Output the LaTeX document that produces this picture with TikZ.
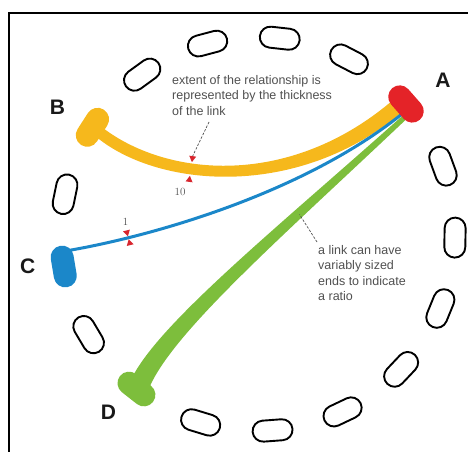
\documentclass[tikz,border=0pt]{standalone}
\usepackage{fontspec}
\setsansfont{Liberation Sans}
\usepackage{tikz}
\usetikzlibrary{shapes.misc, positioning, calc, backgrounds}

\definecolor{linkred}{HTML}{E42328}
\definecolor{linkyellow}{HTML}{F6B81C}
\definecolor{linkblue}{HTML}{1B87C9}
\definecolor{linkgreen}{HTML}{7DBE3C}
\definecolor{notegray}{HTML}{505050}
\definecolor{tickred}{HTML}{D8262E}

\newcommand{\ticktip}[2]{\fill[tickred] (#1) -- ($(#1)+({#2+180}:6)+({#2+90}:3.5)$) -- ($(#1)+({#2+180}:6)+({#2-90}:3.5)$) -- cycle;}

\begin{document}
\begin{tikzpicture}[
			x=1pt, y=1pt,
			slot/.style={rounded rectangle, draw=black, line width=1.9pt, minimum width=40pt, minimum height=21pt, inner sep=0pt},
			endslot/.style={rounded rectangle, minimum width=42pt, minimum height=23pt, inner sep=0pt},
			letter/.style={font=\sffamily\bfseries\fontsize{21}{21}\selectfont, text=black!90, on grid},
			note/.style={font=\sffamily\fontsize{12.5}{15.4}\selectfont, text=notegray, align=left, inner sep=0pt},
			count/.style={font=\fontsize{11}{11}\selectfont, text=notegray, inner sep=0pt},
			leader/.style={draw=notegray, line width=0.7pt, dash pattern=on 2.5pt off 1.5pt}
		]

		\useasboundingbox (0,0) rectangle (468,452);
		\draw[line width=2pt] (468,439) -- (9,439) -- (9,0);

		\coordinate (ctr) at (258,218);
		\foreach \i in {1,2,3,4,5,6,7,9,11,13,14,15,16}
			\node[slot, rotate=41.3-\i*21.176+90] (s\i) at ($(ctr)+({41.3-\i*21.176}:197)$) {};

		\node[endslot, fill=linkred, rotate=131.3] (A) at ($(ctr)+(41.3:197)$) {};
		\node[endslot, fill=linkgreen, rotate=-38.1] (D) at ($(ctr)+(-128.1:197)$) {};
		\node[endslot, fill=linkblue, rotate=-80.5] (C) at ($(ctr)+(-170.5:197)$) {};
		\node[endslot, fill=linkyellow, rotate=237.2] (B) at ($(ctr)+(147.2:197)$) {};

		\node[letter, above right=24pt and 37pt of A] (labA) {A};
		\node[letter, above left=20pt and 35pt of B] (labB) {B};
		\node[letter, left=36pt of C] (labC) {C};
		\node[letter, below left=23pt and 28pt of D] (labD) {D};

		\coordinate (Ay) at ($(A)+(221.3:5)+(131.3:4)$);
		\coordinate (Ab) at ($(A)+(221.3:6)+(131.3:-5)$);
		\coordinate (Ag) at ($(A)+(221.3:6)+(131.3:-9)$);
		\coordinate (By) at ($(B)+(327.2:5)$);
		\coordinate (Cb) at ($(C)+(9.5:5)+(-80.5:-15)$);
		\coordinate (Dg) at ($(D)+(51.9:5)$);

		\begin{pgfonlayer}{background}
			\fill[linkyellow] ($(By)+(50:5.5)$) .. controls ($(By)+(63,-53)+(50:7.5)$) and ($(Ay)+(-105,-91)+(130.9:7.5)$) .. ($(Ay)+(130.9:7.5)$)
				-- ($(Ay)+(-49.1:7.5)$) .. controls ($(Ay)+(-105,-91)+(-49.1:7.5)$) and ($(By)+(63,-53)+(-130:7.5)$) .. ($(By)+(-130:5.5)$) -- cycle;
			\fill[linkgreen] ($(Dg)+(158:10)$) .. controls ($(Dg)+(24,56)+(158:9)$) and ($(Ag)+(-127,-117)+(132.7:5)$) .. ($(Ag)+(132.7:2.5)$)
				-- ($(Ag)+(-47.3:2.5)$) .. controls ($(Ag)+(-127,-117)+(-47.3:5)$) and ($(Dg)+(24,56)+(-22:9)$) .. ($(Dg)+(-22:10)$) -- cycle;
			\draw[linkblue, line width=3pt] (Cb) .. controls +(94,16) and +(-95,-78) .. (Ab);
		\end{pgfonlayer}

		\ticktip{191.9,289.9}{-97.9}
		\ticktip{189.9,276.1}{82.1}
		\ticktip{127.9,215.7}{-76}
		\ticktip{128.7,212.7}{104}

		\node[count] (ten) at (180,260) {10};
		\node[count] (one) at (125.5,230) {1};

		\node[note, anchor=north west] (note1) at (172,377) {extent of the relationship is\\represented by the thickness\\of the link};
		\node[note, anchor=north west] (note2) at (318,207) {a link can have\\variably sized\\ends to indicate\\a ratio};

		\coordinate (l1a) at (209,330);
		\coordinate (l1b) at (192.7,296);
		\coordinate (l2a) at (317,210);
		\coordinate (l2b) at (299.5,237.5);
		\draw[leader] (l1a) -- (l1b);
		\draw[leader] (l2a) -- (l2b);

	\end{tikzpicture}
\end{document}
